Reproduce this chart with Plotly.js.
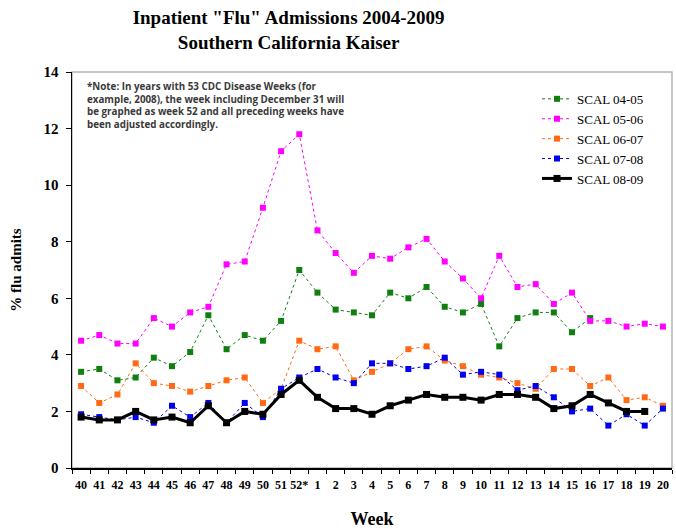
<!DOCTYPE html>
<html>
<head>
<meta charset="utf-8">
<script src="https://cdn.plot.ly/plotly-3.0.1.min.js"></script>
<style>html,body{margin:0;padding:0;background:#fff;}#chart{width:676px;height:529px;}</style>
</head>
<body>
<div id="chart"></div>
<script>
const weeks = ["40","41","42","43","44","45","46","47","48","49","50","51","52*","1","2","3","4","5","6","7","8","9","10","11","12","13","14","15","16","17","18","19","20"];
const scal0405 = [3.4,3.5,3.1,3.2,3.9,3.6,4.1,5.4,4.2,4.7,4.5,5.2,7.0,6.2,5.6,5.5,5.4,6.2,6.0,6.4,5.7,5.5,5.8,4.3,5.3,5.5,5.5,4.8,5.3,null,null,null,null];
const scal0506 = [4.5,4.7,4.4,4.4,5.3,5.0,5.5,5.7,7.2,7.3,9.2,11.2,11.8,8.4,7.6,6.9,7.5,7.4,7.8,8.1,7.3,6.7,6.0,7.5,6.4,6.5,5.8,6.2,5.2,5.2,5.0,5.1,5.0];
const scal0607 = [2.9,2.3,2.6,3.7,3.0,2.9,2.7,2.9,3.1,3.2,2.3,2.8,4.5,4.2,4.3,3.1,3.4,3.7,4.2,4.3,3.8,3.6,3.3,3.2,3.0,2.8,3.5,3.5,2.9,3.2,2.4,2.5,2.2];
const scal0708 = [1.9,1.8,1.7,1.8,1.6,2.2,1.8,2.3,1.6,2.3,1.8,2.8,3.2,3.5,3.2,3.0,3.7,3.7,3.5,3.6,3.9,3.3,3.4,3.3,2.75,2.9,2.5,2.0,2.1,1.5,1.9,1.5,2.1];
const scal0809 = [1.8,1.7,1.7,2.0,1.7,1.8,1.6,2.2,1.6,2.0,1.9,2.6,3.1,2.5,2.1,2.1,1.9,2.2,2.4,2.6,2.5,2.5,2.4,2.6,2.6,2.5,2.1,2.2,2.6,2.3,2.0,2.0,null];
const seriesNames = ["SCAL 04-05","SCAL 05-06","SCAL 06-07","SCAL 07-08","SCAL 08-09"];

const serif = "Liberation Serif, Times New Roman, serif";
function dashed(y, name, color) {
  return {x: weeks, y: y, name: name, type: "scatter", mode: "lines+markers",
    line: {color: color, width: 1, dash: "3px,3px"},
    marker: {symbol: "square", size: 6, color: color},
    connectgaps: false};
}
const traces = [
  dashed(scal0405, seriesNames[0], "#0f7f0f"),
  dashed(scal0506, seriesNames[1], "#ff00ff"),
  dashed(scal0607, seriesNames[2], "#ff6a13"),
  dashed(scal0708, seriesNames[3], "#0000ee"),
  {x: weeks, y: scal0809, name: seriesNames[4], type: "scatter", mode: "lines+markers",
    line: {color: "#000000", width: 3}, marker: {symbol: "square", size: 7, color: "#000000"}}
];

const layout = {
  width: 676, height: 529,
  margin: {l: 72, r: 4, t: 72, b: 61},
  paper_bgcolor: "#ffffff", plot_bgcolor: "rgba(0,0,0,0)",
  showlegend: true,
  title: {text: "Inpatient \"Flu\" Admissions 2004-2009<br>Southern California Kaiser",
    font: {family: serif, size: 19, color: "#000", weight: "bold"},
    x: 0.427, xanchor: "center", xref: "container", y: 0.955, yanchor: "top", yref: "container"},
  xaxis: {type: "category", range: [-0.5, 32.5], tickson: "boundaries", ticks: "outside", ticklen: 4,
    tickcolor: "#000", showline: true, linecolor: "#000", linewidth: 1.5, showgrid: false, zeroline: false,
    tickangle: 0, ticklabelstandoff: 5,
    tickfont: {family: serif, size: 12, color: "#000", weight: "bold"},
    title: {text: "Week", font: {family: serif, size: 18, color: "#000", weight: "bold"}, standoff: 28}},
  yaxis: {range: [0, 14], dtick: 2, ticks: "outside", ticklen: 5, tickcolor: "#000",
    showline: true, linecolor: "#000", linewidth: 1.5, showgrid: false, zeroline: false,
    ticklabelstandoff: 4,
    tickfont: {family: serif, size: 15, color: "#000", weight: "bold"},
    title: {text: "% flu admits", font: {family: serif, size: 15, color: "#000", weight: "bold"}, standoff: 18}},
  legend: {x: 0.775, xanchor: "left", y: 0.97, yanchor: "top", bgcolor: "rgba(0,0,0,0)",
    font: {family: serif, size: 13, color: "#000"}, tracegroupgap: 0, itemwidth: 30},
  shapes: [{type: "rect", xref: "paper", yref: "paper", x0: 0, x1: 1, y0: 0, y1: 1,
    line: {color: "#b4b4b4", width: 1.5}, layer: "below"}],
  annotations: [{xref: "paper", yref: "paper", x: 0.022, y: 0.985, xanchor: "left", yanchor: "top",
    align: "left", showarrow: false,
    text: "*Note: In years with 53 CDC Disease Weeks (for<br>example, 2008), the week including December 31 will<br>be graphed as week 52 and all preceding weeks have<br>been adjusted accordingly.",
    font: {family: "Open Sans, sans-serif", size: 9.8, color: "#3a3a3a", weight: "bold"}}]
};
Plotly.newPlot("chart", traces, layout, {displayModeBar: false, staticPlot: true});
</script>
</body>
</html>
